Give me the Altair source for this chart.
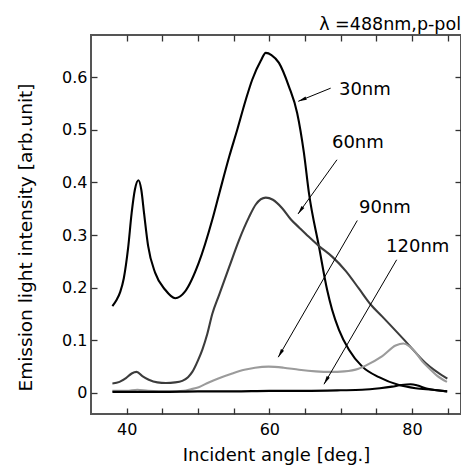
import altair as alt
import pandas as pd
import numpy as np

# ---- data ----
a30 = [38.0, 38.6, 39.1, 39.6, 40.2, 40.7, 41.15, 41.65, 42.05, 42.45, 43.0, 44.0, 45.4, 46.8, 48.2,
       50.1, 52.0, 53.0, 54.4, 55.5, 56.7, 57.6, 58.8, 59.5, 60.3, 61.35, 62.75, 63.9, 64.85, 65.55,
       66.96, 68.1, 68.8, 69.76, 71.16, 73.03, 75.37, 78.17, 80.5, 82.84, 84.9]
v30 = [0.165, 0.177, 0.192, 0.218, 0.275, 0.342, 0.386, 0.404, 0.386, 0.340, 0.280, 0.228, 0.196, 0.180, 0.193,
       0.247, 0.329, 0.380, 0.450, 0.500, 0.557, 0.595, 0.631, 0.646, 0.642, 0.627, 0.582, 0.532, 0.456, 0.380,
       0.278, 0.196, 0.158, 0.120, 0.082, 0.050, 0.030, 0.015, 0.009, 0.006, 0.003]

a60 = [38.0, 39.0, 39.9, 40.7, 41.4, 42.2, 43.1, 44.3, 45.5, 46.8, 47.8, 48.6, 49.2, 50.0, 50.6, 51.3,
       52.0, 52.95, 54.34, 55.74, 57.15, 58.1, 59.5, 60.5, 61.8, 63.0, 64.2, 65.5, 66.96, 68.8, 70.7,
       72.57, 74.2, 75.84, 79.1, 81.9, 84.95]
v60 = [0.018, 0.021, 0.028, 0.037, 0.040, 0.032, 0.025, 0.020, 0.019, 0.020, 0.023, 0.030, 0.040, 0.062, 0.082, 0.112,
       0.150, 0.186, 0.238, 0.290, 0.334, 0.358, 0.371, 0.367, 0.351, 0.330, 0.314, 0.297, 0.279, 0.259, 0.232,
       0.198, 0.168, 0.145, 0.098, 0.057, 0.027]

a90 = [38.0, 40.0, 41.5, 43.0, 46.0, 48.0, 49.0, 50.1, 51.5, 52.94, 54.8, 56.5, 58.0, 59.9, 62.0, 64.16,
       66.5, 68.6, 70.5, 72.5, 73.5, 75.84, 77.7, 78.8, 79.6, 80.5, 81.44, 82.4, 83.5, 84.9]
v90 = [0.004, 0.004, 0.006, 0.004, 0.003, 0.004, 0.007, 0.011, 0.020, 0.028, 0.037, 0.044, 0.048, 0.050, 0.048, 0.044,
       0.041, 0.040, 0.041, 0.046, 0.052, 0.070, 0.090, 0.094, 0.089, 0.077, 0.060, 0.047, 0.033, 0.021]

a120 = [38.0, 45.0, 50.0, 55.0, 60.0, 65.0, 70.0, 73.0, 75.5, 77.2, 78.5, 79.8, 80.8, 81.9, 83.5, 84.95]
v120 = [0.002, 0.002, 0.003, 0.003, 0.004, 0.004, 0.005, 0.006, 0.009, 0.012, 0.015, 0.0165, 0.014, 0.009, 0.005, 0.003]

series_names = ["30nm", "60nm", "90nm", "120nm"]
series_colors = ["#000000", "#3c3c3c", "#9b9b9b", "#000000"]

# annotation labels (left x, baseline y)
lab_x = [69.76, 68.78, 72.57, 76.36]
lab_y = [0.5665, 0.4658, 0.342, 0.268]

# arrows: start -> end (tip)
arr_x1 = [68.6, 69.48, 72.33, 77.85]
arr_y1 = [0.579, 0.443, 0.3276, 0.253]
arr_x2 = [64.06, 64.02, 61.25, 67.66]
arr_y2 = [0.554, 0.340, 0.0679, 0.0165]

x_ticks = [40, 45, 50, 55, 60, 65, 70, 75, 80, 85]
x_labels = [40, 60, 80]
y_ticks = [0, 0.1, 0.2, 0.3, 0.4, 0.5, 0.6]

cond_text = "λ =488nm,p-pol"

# ---- layout ----
W, H = 370, 379
XDOM = [35, 86.87]
YDOM = [-0.04, 0.68]
FONT = "DejaVu Sans"
TICK = 6
TICK_COL = "#333333"

xs = alt.Scale(domain=XDOM, nice=False, zero=False)
ys = alt.Scale(domain=YDOM, nice=False, zero=False)

px_per_x = W / (XDOM[1] - XDOM[0])
px_per_y = H / (YDOM[1] - YDOM[0])

label_list = "[" + ",".join(str(v) for v in x_labels) + "]"

# axes drawn with ticks pointing inward: axis moved inside by the tick length
bottom_axis = alt.Axis(orient="bottom", values=x_ticks, offset=-TICK, ticks=True, tickSize=TICK,
                       tickColor=TICK_COL, tickWidth=1.3, domain=False, grid=False,
                       labelExpr="indexof(" + label_list + ", datum.value) >= 0 ? datum.label : ''",
                       labelOverlap=False, labelPadding=7, labelFontSize=16, labelFont=FONT,
                       labelColor="black",
                       title="Incident angle [deg.]", titleFont=FONT, titleFontSize=18,
                       titleFontWeight="normal", titleColor="black",
                       titleY=46 + TICK, titleBaseline="alphabetic")
left_axis = alt.Axis(orient="left", values=y_ticks, offset=-TICK, ticks=True, tickSize=TICK,
                     tickColor=TICK_COL, tickWidth=1.3, domain=False, grid=False,
                     labelPadding=4, labelFontSize=16, labelFont=FONT, labelColor="black",
                     labelOverlap=False,
                     labelExpr="datum.value == 0 ? '0' : format(datum.value, '.1f')",
                     title="Emission light intensity [arb.unit]", titleFont=FONT, titleFontSize=18.5,
                     titleFontWeight="normal", titleColor="black",
                     titleX=-60 - TICK, titleY=202, titleBaseline="alphabetic")
top_axis = alt.Axis(orient="top", values=x_ticks, offset=-TICK, ticks=True, tickSize=TICK,
                    tickColor=TICK_COL, tickWidth=1.3, domain=False, grid=False, labels=False, title=None)
right_axis = alt.Axis(orient="right", values=y_ticks, offset=-TICK, ticks=True, tickSize=TICK,
                      tickColor=TICK_COL, tickWidth=1.3, domain=False, grid=False, labels=False, title=None)

rows = []
for name, aa, vv in zip(series_names, [a30, a60, a90, a120], [v30, v60, v90, v120]):
    for a, v in zip(aa, vv):
        rows.append({"series": name, "angle": a, "value": v})
df = pd.DataFrame(rows)

lines = alt.Chart(df).mark_line(strokeWidth=2.1, interpolate="monotone").encode(
    x=alt.X("angle:Q", scale=xs, axis=bottom_axis),
    y=alt.Y("value:Q", scale=ys, axis=left_axis),
    color=alt.Color("series:N", scale=alt.Scale(domain=series_names, range=series_colors), legend=None),
    detail="series:N",
    order=alt.Order("angle:Q"),
)

# invisible copy that only carries the top and right axes
frame_axes = alt.Chart(df).mark_line(opacity=0).encode(
    x=alt.X("angle:Q", scale=xs, axis=top_axis),
    y=alt.Y("value:Q", scale=ys, axis=right_axis),
    detail="series:N",
)

ann = pd.DataFrame({"name": series_names, "x": lab_x, "y": lab_y})
labels = alt.Chart(ann).mark_text(align="left", baseline="alphabetic", font=FONT, fontSize=18,
                                  color="black").encode(
    x=alt.X("x:Q", scale=xs, axis=None), y=alt.Y("y:Q", scale=ys, axis=None), text="name:N")

dxs = (np.array(arr_x2) - np.array(arr_x1)) * px_per_x
dys = -(np.array(arr_y2) - np.array(arr_y1)) * px_per_y
angles = np.mod(np.degrees(np.arctan2(dxs, -dys)), 360)
arr = pd.DataFrame({"x1": arr_x1, "y1": arr_y1, "x2": arr_x2, "y2": arr_y2, "ang": angles})

arrow_lines = alt.Chart(arr).mark_rule(color="black", strokeWidth=1).encode(
    x=alt.X("x1:Q", scale=xs, axis=None), y=alt.Y("y1:Q", scale=ys, axis=None), x2="x2:Q", y2="y2:Q")
arrow_heads = alt.Chart(arr).mark_point(shape="M0,0L-0.42,2L0.42,2Z", filled=True, color="black",
                                        size=72, opacity=1, strokeWidth=0).encode(
    x=alt.X("x2:Q", scale=xs, axis=None), y=alt.Y("y2:Q", scale=ys, axis=None),
    angle=alt.Angle("ang:Q", scale=None))

cond = alt.Chart(pd.DataFrame({"t": [cond_text]})).mark_text(
    align="right", baseline="alphabetic", font=FONT, fontSize=17.5, color="black").encode(
    x=alt.value(W), y=alt.value(-5), text="t:N")

chart = alt.layer(lines, frame_axes, arrow_lines, arrow_heads, labels, cond).properties(
    width=W, height=H,
    background="white",
    padding={"left": 83, "top": 27, "right": 0, "bottom": 52},
    autosize=alt.AutoSizeParams(type="none"),
).configure_view(stroke="#555555", strokeWidth=2)

chart.save("out.html", embed_options={"renderer": "svg", "actions": False})
